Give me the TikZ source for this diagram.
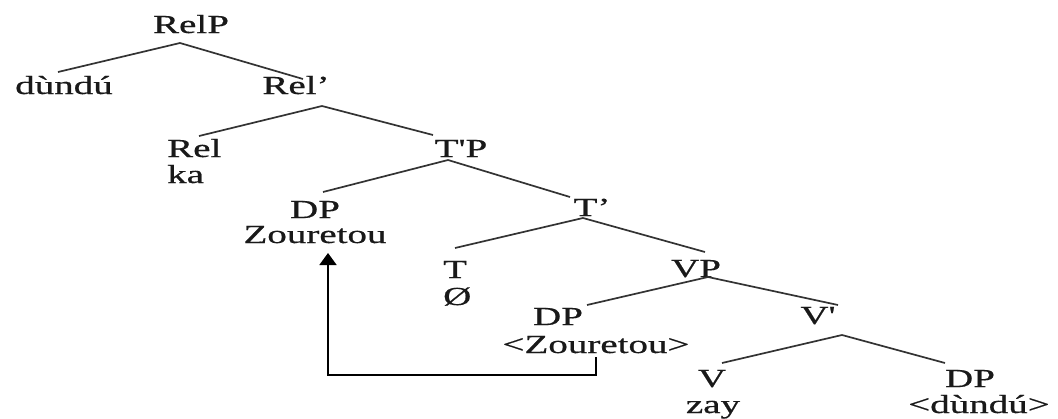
\documentclass[tikz,border=0pt]{standalone}
\usepackage{fontspec}
\setmainfont{Liberation Serif}[FakeBold=0.5]
\usetikzlibrary{arrows.meta}
\newcommand{\wtxt}[1]{\scalebox{1.5}[1]{#1}}
\tikzset{
  lbl/.style={inner sep=0pt, anchor=base, font=\fontsize{26}{28}\selectfont, text=black!90},
  lblw/.style={lbl, anchor=base west},
  br/.style={line width=1.7pt, draw=black!80},
  mv/.style={line width=1.8pt, draw=black, -{Triangle[length=12pt,width=17pt]}}
}
\begin{document}
\begin{tikzpicture}[x=1pt,y=-1pt]
\useasboundingbox[fill=white] (0,0) rectangle (1058,418);
% labels
\node[lbl] (relp) at (191,33) {\wtxt{RelP}};
\node[lbl] (dundu) at (64,94) {\wtxt{dùndú}};
\node[lbl] (relb) at (296,94) {\wtxt{Rel’}};
\node[lblw] (rel) at (167,157) {\wtxt{Rel}};
\node[lblw] (ka) at (167,183) {\wtxt{ka}};
\node[lbl] (tp) at (461,157) {\wtxt{T\textquotesingle P}};
\node[lbl] (dp1) at (315,218) {\wtxt{DP}};
\node[lbl] (zour) at (315,243) {\wtxt{Zouretou}};
\node[lbl] (tb) at (592,216) {\wtxt{T’}};
\node[lblw] (t) at (443,278) {\wtxt{T}};
\node[lblw] (null) at (443,305) {\wtxt{Ø}};
\node[lbl] (vp) at (696,277) {\wtxt{VP}};
\node[lbl] (dp2) at (558,325) {\wtxt{DP}};
\node[lbl] (zour2) at (596,353) {\wtxt{<Zouretou>}};
\node[lbl] (vb) at (818,324) {\wtxt{V\textquotesingle}};
\node[lbl] (v) at (712,387) {\wtxt{V}};
\node[lbl] (zay) at (713,413) {\wtxt{zay}};
\node[lbl] (dp3) at (970,387) {\wtxt{DP}};
\node[lbl] (dundu2) at (979,413) {\wtxt{<dùndú>}};
% branches
\draw[br] ([shift={(-6,-22)}]dundu.base) -- ([shift={(-11,10)}]relp.base) -- ([shift={(7,-15)}]relb.base);
\draw[br] ([shift={(32,-21)}]rel.base west) -- ([shift={(26,12)}]relb.base) -- ([shift={(-28,-22)}]tp.base);
\draw[br] ([shift={(8,-26)}]dp1.base) -- ([shift={(-13,3)}]tp.base) -- ([shift={(-22,-19)}]tb.base);
\draw[br] ([shift={(12,-30)}]t.base west) -- ([shift={(-9,2)}]tb.base) -- ([shift={(9,-25)}]vp.base);
\draw[br] ([shift={(29,-20)}]dp2.base) -- ([shift={(12,0)}]vp.base) -- ([shift={(20,-19)}]vb.base);
\draw[br] ([shift={(10,-24)}]v.base) -- ([shift={(24,11)}]vb.base) -- ([shift={(-25,-24)}]dp3.base);
% movement arrow
\draw[mv] ([shift={(0,4)}]zour2.base) -- ++(0,18) -| ([shift={(13,10)}]zour.base);
\end{tikzpicture}
\end{document}
